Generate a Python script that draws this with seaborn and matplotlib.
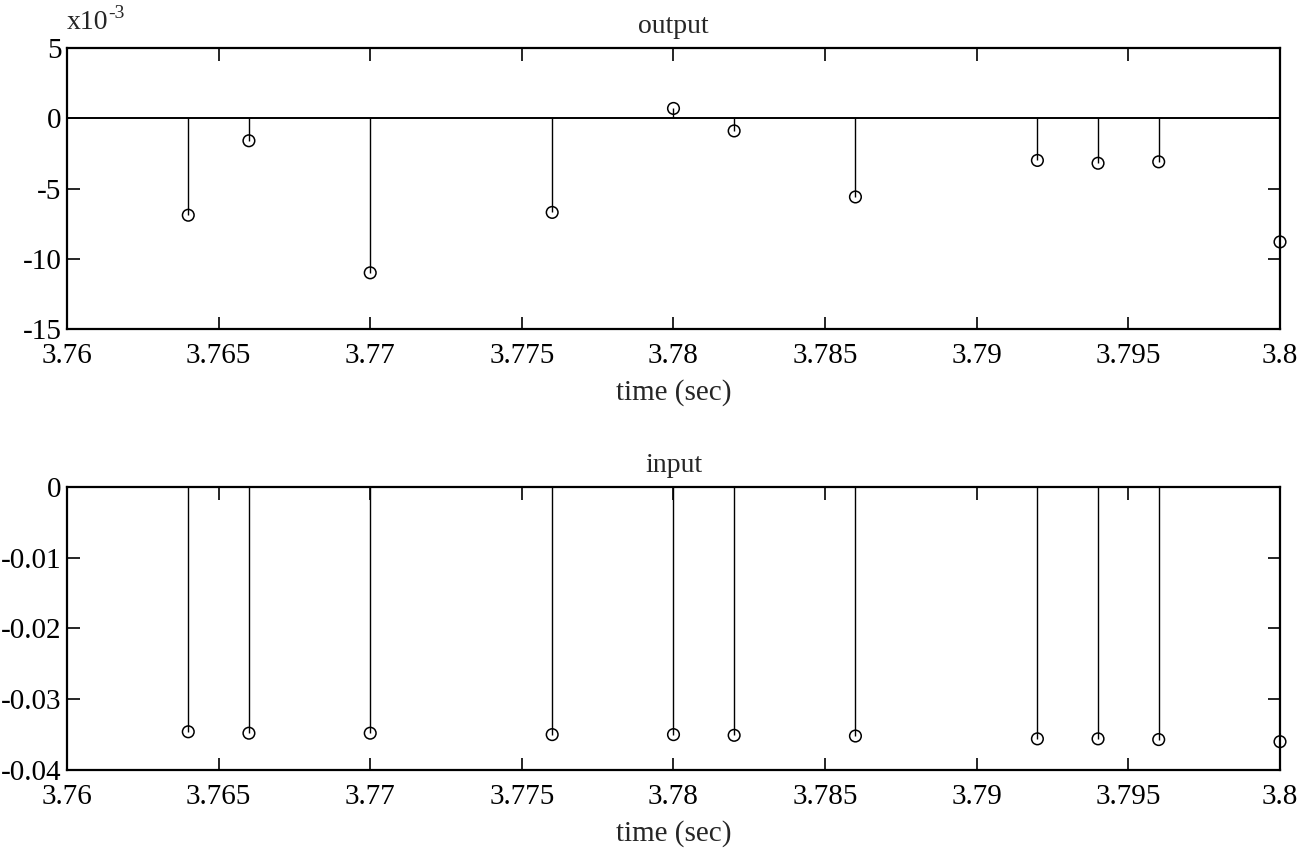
import numpy as np
import pandas as pd
import matplotlib
matplotlib.use("Agg")
import matplotlib.pyplot as plt
import seaborn as sns

# sample times (sec)
time = [3.764, 3.766, 3.770, 3.776, 3.780, 3.782, 3.786, 3.792, 3.794, 3.796, 3.800]

# output in units of 1e-3
output_vals = [-6.9, -1.6, -11.0, -6.7, 0.7, -0.9, -5.6, -3.0, -3.2, -3.1, -8.8]

# input
input_vals = [-0.0346, -0.0348, -0.0348, -0.0350, -0.0350, -0.0351, -0.0352,
              -0.0356, -0.0356, -0.0357, -0.0360]

x_ticks = [3.76, 3.765, 3.77, 3.775, 3.78, 3.785, 3.79, 3.795, 3.8]
x_tick_labels = ["3.76", "3.765", "3.77", "3.775", "3.78", "3.785", "3.79", "3.795", "3.8"]

sns.set_style("ticks")
plt.rcParams['font.family'] = ['Liberation Serif', 'DejaVu Serif']

fig = plt.figure(figsize=(13.08, 8.67), dpi=100)
ax_top = fig.add_axes([0.0512, 0.6205, 0.9274, 0.3241])
ax_bot = fig.add_axes([0.0512, 0.1119, 0.9274, 0.3264])


def stem_plot(ax, t, vals, ylim, yticks, yticklabels, title):
    df = pd.DataFrame({"time": t, "value": vals})
    ax.axhline(0, color="black", lw=1.4, zorder=1)
    ax.vlines(df["time"], 0, df["value"], color="black", lw=1.0, zorder=2)
    sns.scatterplot(data=df, x="time", y="value", ax=ax, marker="o", s=70,
                    facecolor="none", edgecolor="black", linewidth=1.1, zorder=3,
                    clip_on=False)
    ax.set_xlim(3.76, 3.8)
    ax.set_ylim(*ylim)
    ax.set_xticks(x_ticks)
    ax.set_xticklabels(x_tick_labels)
    ax.set_yticks(yticks)
    ax.set_yticklabels(yticklabels)
    ax.tick_params(direction="in", length=9, width=1.2, top=True, right=True,
                   labelsize=21, colors="black")
    ax.tick_params(axis="x", pad=10)
    ax.tick_params(axis="y", pad=4)
    for sp in ax.spines.values():
        sp.set_visible(True)
        sp.set_linewidth(1.6)
        sp.set_color("black")
    ax.set_title(title, fontsize=20, pad=11)
    ax.set_xlabel("time (sec)", fontsize=21, labelpad=7)
    ax.set_ylabel("")


stem_plot(ax_top, time, output_vals, (-15, 5), [-15, -10, -5, 0, 5],
          ["-15", "-10", "-5", "0", "5"], "output")
mult = ax_top.text(0.0, 1.045, "x10", transform=ax_top.transAxes,
                   fontsize=20, ha="left", va="bottom")
ax_top.annotate("-3", xy=(1.0, 0.55), xycoords=mult, fontsize=14,
                ha="left", va="bottom")

stem_plot(ax_bot, time, input_vals, (-0.04, 0), [-0.04, -0.03, -0.02, -0.01, 0],
          ["-0.04", "-0.03", "-0.02", "-0.01", "0"], "input")

fig.savefig("out.png", dpi=100, facecolor="white")
